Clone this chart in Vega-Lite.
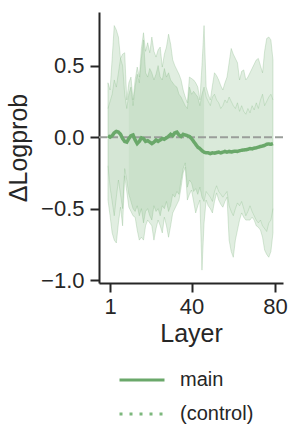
{
  "$schema": "https://vega.github.io/schema/vega-lite/v6.json",
  "width": 184,
  "height": 271,
  "autosize": "none",
  "padding": {"left": 99, "top": 12, "right": 16, "bottom": 158},
  "config": {
    "font": "Liberation Sans",
    "view": {"stroke": null},
    "axis": {"grid": false, "domainColor": "#262626", "domainWidth": 2, "tickColor": "#262626", "tickWidth": 2, "tickSize": 9, "labelFontSize": 22, "labelColor": "#262626", "titleFontSize": 25, "titleFontWeight": "normal", "titleColor": "#262626"}
  },
  "data": {"values": [
    {"L":0,"main":0.01,"aHi":0.38,"aLo":-0.44,"bHi":0.20,"bLo":-0.20,"series":"main"},
    {"L":1,"main":0.0,"aHi":0.33,"aLo":-0.55,"bHi":0.25,"bLo":-0.35,"series":"main"},
    {"L":2,"main":0.01,"aHi":0.55,"aLo":-0.67,"bHi":0.30,"bLo":-0.45,"series":"main"},
    {"L":3,"main":0.03,"aHi":0.78,"aLo":-0.72,"bHi":0.40,"bLo":-0.55,"series":"main"},
    {"L":4,"main":0.04,"aHi":0.75,"aLo":-0.74,"bHi":0.35,"bLo":-0.42,"series":"main"},
    {"L":5,"main":0.035,"aHi":0.70,"aLo":-0.60,"bHi":0.45,"bLo":-0.30,"series":"main"},
    {"L":6,"main":0.02,"aHi":0.55,"aLo":-0.49,"bHi":0.55,"bLo":-0.40,"series":"main"},
    {"L":7,"main":-0.01,"aHi":0.58,"aLo":-0.62,"bHi":0.50,"bLo":-0.50,"series":"main"},
    {"L":8,"main":-0.03,"aHi":0.59,"aLo":-0.27,"bHi":0.30,"bLo":-0.22,"series":"main"},
    {"L":9,"main":-0.035,"aHi":0.26,"aLo":-0.38,"bHi":0.20,"bLo":-0.30,"series":"main"},
    {"L":10,"main":-0.01,"aHi":0.38,"aLo":-0.49,"bHi":0.30,"bLo":-0.40,"series":"main"},
    {"L":11,"main":0.01,"aHi":0.42,"aLo":-0.52,"bHi":0.35,"bLo":-0.45,"series":"main"},
    {"L":12,"main":0.015,"aHi":0.26,"aLo":-0.55,"bHi":0.22,"bLo":-0.50,"series":"main"},
    {"L":13,"main":-0.02,"aHi":0.40,"aLo":-0.56,"bHi":0.35,"bLo":-0.52,"series":"main"},
    {"L":14,"main":-0.045,"aHi":0.49,"aLo":-0.65,"bHi":0.44,"bLo":-0.48,"series":"main"},
    {"L":15,"main":-0.03,"aHi":0.42,"aLo":-0.72,"bHi":0.38,"bLo":-0.55,"series":"main"},
    {"L":16,"main":-0.005,"aHi":0.62,"aLo":-0.70,"bHi":0.55,"bLo":-0.50,"series":"main"},
    {"L":17,"main":-0.01,"aHi":0.73,"aLo":-0.72,"bHi":0.68,"bLo":-0.60,"series":"main"},
    {"L":18,"main":-0.03,"aHi":0.60,"aLo":-0.62,"bHi":0.45,"bLo":-0.52,"series":"main"},
    {"L":19,"main":-0.025,"aHi":0.66,"aLo":-0.58,"bHi":0.42,"bLo":-0.50,"series":"main"},
    {"L":20,"main":-0.035,"aHi":0.59,"aLo":-0.60,"bHi":0.48,"bLo":-0.55,"series":"main"},
    {"L":21,"main":-0.045,"aHi":0.70,"aLo":-0.62,"bHi":0.45,"bLo":-0.58,"series":"main"},
    {"L":22,"main":-0.035,"aHi":0.60,"aLo":-0.72,"bHi":0.40,"bLo":-0.48,"series":"main"},
    {"L":23,"main":-0.02,"aHi":0.56,"aLo":-0.64,"bHi":0.44,"bLo":-0.52,"series":"main"},
    {"L":24,"main":-0.03,"aHi":0.61,"aLo":-0.58,"bHi":0.50,"bLo":-0.50,"series":"main"},
    {"L":25,"main":-0.02,"aHi":0.63,"aLo":-0.62,"bHi":0.42,"bLo":-0.55,"series":"main"},
    {"L":26,"main":-0.01,"aHi":0.49,"aLo":-0.67,"bHi":0.40,"bLo":-0.48,"series":"main"},
    {"L":27,"main":-0.015,"aHi":0.58,"aLo":-0.56,"bHi":0.48,"bLo":-0.50,"series":"main"},
    {"L":28,"main":-0.005,"aHi":0.63,"aLo":-0.62,"bHi":0.42,"bLo":-0.45,"series":"main"},
    {"L":29,"main":0.005,"aHi":0.72,"aLo":-0.70,"bHi":0.45,"bLo":-0.52,"series":"main"},
    {"L":30,"main":0.02,"aHi":0.65,"aLo":-0.62,"bHi":0.40,"bLo":-0.48,"series":"main"},
    {"L":31,"main":0.01,"aHi":0.54,"aLo":-0.53,"bHi":0.38,"bLo":-0.40,"series":"main"},
    {"L":32,"main":0.03,"aHi":0.50,"aLo":-0.50,"bHi":0.36,"bLo":-0.42,"series":"main"},
    {"L":33,"main":0.035,"aHi":0.47,"aLo":-0.47,"bHi":0.35,"bLo":-0.38,"series":"main"},
    {"L":34,"main":0.015,"aHi":0.44,"aLo":-0.44,"bHi":0.30,"bLo":-0.40,"series":"main"},
    {"L":35,"main":0.005,"aHi":0.40,"aLo":-0.35,"bHi":0.28,"bLo":-0.30,"series":"main"},
    {"L":36,"main":0.02,"aHi":0.33,"aLo":-0.25,"bHi":0.25,"bLo":-0.22,"series":"main"},
    {"L":37,"main":0.015,"aHi":0.28,"aLo":-0.21,"bHi":0.22,"bLo":-0.18,"series":"main"},
    {"L":38,"main":0.01,"aHi":0.24,"aLo":-0.44,"bHi":0.20,"bLo":-0.35,"series":"main"},
    {"L":39,"main":0.005,"aHi":0.42,"aLo":-0.40,"bHi":0.35,"bLo":-0.30,"series":"main"},
    {"L":40,"main":-0.01,"aHi":0.41,"aLo":-0.37,"bHi":0.30,"bLo":-0.32,"series":"main"},
    {"L":41,"main":-0.03,"aHi":0.40,"aLo":-0.45,"bHi":0.32,"bLo":-0.38,"series":"main"},
    {"L":42,"main":-0.05,"aHi":0.38,"aLo":-0.53,"bHi":0.30,"bLo":-0.36,"series":"main"},
    {"L":43,"main":-0.07,"aHi":0.35,"aLo":-0.48,"bHi":0.28,"bLo":-0.40,"series":"main"},
    {"L":44,"main":-0.08,"aHi":0.26,"aLo":-0.44,"bHi":0.22,"bLo":-0.35,"series":"main"},
    {"L":45,"main":-0.095,"aHi":0.50,"aLo":-0.93,"bHi":0.30,"bLo":-0.42,"series":"main"},
    {"L":46,"main":-0.105,"aHi":0.78,"aLo":-0.60,"bHi":0.35,"bLo":-0.45,"series":"main"},
    {"L":47,"main":-0.11,"aHi":0.35,"aLo":-0.44,"bHi":0.28,"bLo":-0.38,"series":"main"},
    {"L":48,"main":-0.11,"aHi":0.30,"aLo":-0.48,"bHi":0.25,"bLo":-0.40,"series":"main"},
    {"L":49,"main":-0.115,"aHi":0.26,"aLo":-0.50,"bHi":0.22,"bLo":-0.42,"series":"main"},
    {"L":50,"main":-0.11,"aHi":0.36,"aLo":-0.53,"bHi":0.28,"bLo":-0.45,"series":"main"},
    {"L":51,"main":-0.112,"aHi":0.45,"aLo":-0.45,"bHi":0.30,"bLo":-0.38,"series":"main"},
    {"L":52,"main":-0.108,"aHi":0.43,"aLo":-0.39,"bHi":0.26,"bLo":-0.34,"series":"main"},
    {"L":53,"main":-0.105,"aHi":0.40,"aLo":-0.44,"bHi":0.24,"bLo":-0.38,"series":"main"},
    {"L":54,"main":-0.11,"aHi":0.36,"aLo":-0.47,"bHi":0.20,"bLo":-0.40,"series":"main"},
    {"L":55,"main":-0.105,"aHi":0.33,"aLo":-0.49,"bHi":0.22,"bLo":-0.42,"series":"main"},
    {"L":56,"main":-0.1,"aHi":0.38,"aLo":-0.45,"bHi":0.26,"bLo":-0.40,"series":"main"},
    {"L":57,"main":-0.105,"aHi":0.42,"aLo":-0.42,"bHi":0.24,"bLo":-0.38,"series":"main"},
    {"L":58,"main":-0.1,"aHi":0.52,"aLo":-0.72,"bHi":0.28,"bLo":-0.48,"series":"main"},
    {"L":59,"main":-0.104,"aHi":0.62,"aLo":-0.80,"bHi":0.25,"bLo":-0.52,"series":"main"},
    {"L":60,"main":-0.1,"aHi":0.58,"aLo":-0.84,"bHi":0.22,"bLo":-0.55,"series":"main"},
    {"L":61,"main":-0.098,"aHi":0.55,"aLo":-0.72,"bHi":0.20,"bLo":-0.50,"series":"main"},
    {"L":62,"main":-0.1,"aHi":0.52,"aLo":-0.65,"bHi":0.24,"bLo":-0.46,"series":"main"},
    {"L":63,"main":-0.095,"aHi":0.40,"aLo":-0.58,"bHi":0.18,"bLo":-0.48,"series":"main"},
    {"L":64,"main":-0.092,"aHi":0.46,"aLo":-0.53,"bHi":0.22,"bLo":-0.45,"series":"main"},
    {"L":65,"main":-0.09,"aHi":0.47,"aLo":-0.56,"bHi":0.18,"bLo":-0.50,"series":"main"},
    {"L":66,"main":-0.088,"aHi":0.40,"aLo":-0.58,"bHi":0.16,"bLo":-0.55,"series":"main"},
    {"L":67,"main":-0.085,"aHi":0.42,"aLo":-0.58,"bHi":0.20,"bLo":-0.52,"series":"main"},
    {"L":68,"main":-0.08,"aHi":0.45,"aLo":-0.58,"bHi":0.17,"bLo":-0.48,"series":"main"},
    {"L":69,"main":-0.082,"aHi":0.48,"aLo":-0.56,"bHi":0.22,"bLo":-0.52,"series":"main"},
    {"L":70,"main":-0.077,"aHi":0.51,"aLo":-0.58,"bHi":0.19,"bLo":-0.55,"series":"main"},
    {"L":71,"main":-0.075,"aHi":0.54,"aLo":-0.62,"bHi":0.24,"bLo":-0.58,"series":"main"},
    {"L":72,"main":-0.07,"aHi":0.55,"aLo":-0.63,"bHi":0.20,"bLo":-0.60,"series":"main"},
    {"L":73,"main":-0.065,"aHi":0.50,"aLo":-0.65,"bHi":0.26,"bLo":-0.58,"series":"main"},
    {"L":74,"main":-0.062,"aHi":0.45,"aLo":-0.70,"bHi":0.30,"bLo":-0.62,"series":"main"},
    {"L":75,"main":-0.058,"aHi":0.60,"aLo":-0.79,"bHi":0.22,"bLo":-0.64,"series":"main"},
    {"L":76,"main":-0.05,"aHi":0.69,"aLo":-0.82,"bHi":0.25,"bLo":-0.66,"series":"main"},
    {"L":77,"main":-0.048,"aHi":0.70,"aLo":-0.84,"bHi":0.28,"bLo":-0.60,"series":"main"},
    {"L":78,"main":-0.05,"aHi":0.68,"aLo":-0.80,"bHi":0.30,"bLo":-0.58,"series":"main"},
    {"L":79,"main":-0.045,"aHi":0.54,"aLo":-0.67,"bHi":0.26,"bLo":-0.50,"series":"main"}
  ]},
  "layer": [
    {
      "mark": {"type": "area", "color": "#6aa86a", "fillOpacity": 0.2, "stroke": "#6aa86a", "strokeOpacity": 0.25, "strokeWidth": 1},
      "encoding": {
        "x": {"field": "L", "type": "quantitative", "scale": {"domain": [-4.3, 83.8], "nice": false, "zero": false},
              "axis": {"values": [1, 40, 80], "title": "Layer", "labelPadding": 4, "titlePadding": 4}},
        "y": {"field": "aLo", "type": "quantitative", "scale": {"domain": [-1.02, 0.875], "nice": false, "zero": false},
              "axis": {"values": [-1, -0.5, 0, 0.5], "format": ".1f", "title": "ΔLogprob", "labelPadding": 6, "titleX": -68}},
        "y2": {"field": "aHi"}
      }
    },
    {
      "transform": [{"filter": "datum.L >= 10 && datum.L <= 46"}],
      "mark": {"type": "area", "color": "#6aa86a", "fillOpacity": 0.18, "strokeWidth": 0},
      "encoding": {
        "x": {"field": "L", "type": "quantitative"},
        "y": {"field": "bLo", "type": "quantitative"},
        "y2": {"field": "bHi"}
      }
    },
    {
      "transform": [{"filter": "datum.L <= 10"}],
      "mark": {"type": "area", "color": "#6aa86a", "fillOpacity": 0.1, "strokeWidth": 0},
      "encoding": {
        "x": {"field": "L", "type": "quantitative"},
        "y": {"field": "bLo", "type": "quantitative"},
        "y2": {"field": "bHi"}
      }
    },
    {
      "transform": [{"filter": "datum.L >= 46"}],
      "mark": {"type": "area", "color": "#6aa86a", "fillOpacity": 0.05, "strokeWidth": 0},
      "encoding": {
        "x": {"field": "L", "type": "quantitative"},
        "y": {"field": "bLo", "type": "quantitative"},
        "y2": {"field": "bHi"}
      }
    },
    {
      "mark": {"type": "line", "color": "#6aa86a", "strokeOpacity": 0.22, "strokeWidth": 1},
      "encoding": {
        "x": {"field": "L", "type": "quantitative"},
        "y": {"field": "bHi", "type": "quantitative"}
      }
    },
    {
      "mark": {"type": "line", "color": "#6aa86a", "strokeOpacity": 0.22, "strokeWidth": 1},
      "encoding": {
        "x": {"field": "L", "type": "quantitative"},
        "y": {"field": "bLo", "type": "quantitative"}
      }
    },
    {
      "data": {"values": [{"zero": 0}]},
      "mark": {"type": "rule", "color": "#9a9e9a", "strokeWidth": 2, "strokeDash": [8, 3]},
      "encoding": {"y": {"field": "zero", "type": "quantitative"}}
    },
    {
      "mark": {"type": "line", "strokeWidth": 3.5},
      "encoding": {
        "x": {"field": "L", "type": "quantitative"},
        "y": {"field": "main", "type": "quantitative"},
        "color": {"field": "series", "type": "nominal", "scale": {"domain": ["main", "(control)"], "range": ["#6aa86a", "#7db87d"]},
                  "legend": {"title": null, "orient": "none", "legendX": 19, "legendY": 344, "symbolType": "stroke", "symbolSize": 2025, "symbolStrokeWidth": 3, "labelFontSize": 20, "labelColor": "#262626", "labelOffset": 14, "rowPadding": -20}},
        "strokeDash": {"field": "series", "type": "nominal", "scale": {"domain": ["main", "(control)"], "range": [[1, 0], [3, 7]]},
                  "legend": {"title": null, "orient": "none", "legendX": 19, "legendY": 344, "symbolType": "stroke", "symbolSize": 2025, "symbolStrokeWidth": 3, "labelFontSize": 20, "labelColor": "#262626", "labelOffset": 14, "rowPadding": -20}}
      }
    }
  ]
}
